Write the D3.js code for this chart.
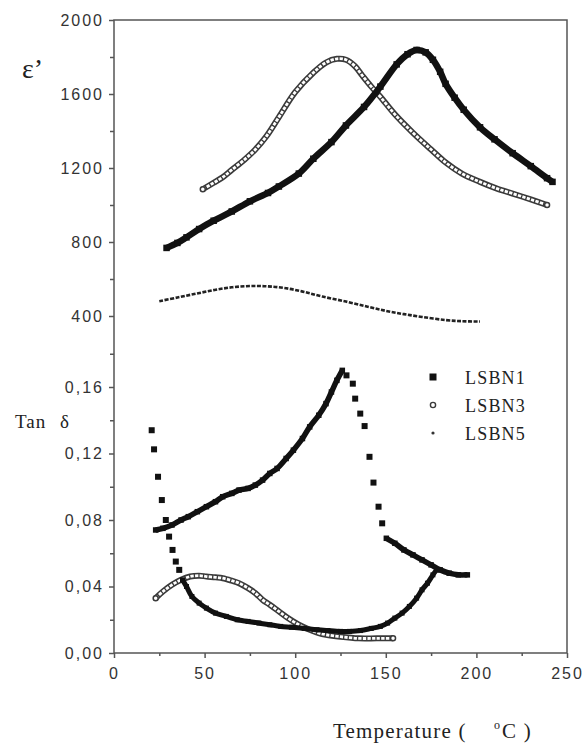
<!DOCTYPE html>
<html>
<head>
<meta charset="utf-8">
<script src="https://d3js.org/d3.v7.min.js"></script>
<style>
  body { margin: 0; background: #fff; }
  .tick text { font-family: "Liberation Sans", Arial, sans-serif; font-size: 16px; letter-spacing: 2px; fill: #333; }
  .tick line { stroke: #555; stroke-width: 1.5; }
  .serif { font-family: "Liberation Serif", "Times New Roman", serif; fill: #222; }
</style>
</head>
<body>
<div id="chart"></div>
<script>
// epsilon' (top panel), temperature in degC
var eps1T = [29, 35, 40, 47, 55, 65, 75, 85, 91, 102, 110, 120, 128, 138, 147, 156, 162, 167, 172, 176, 180, 183, 188, 193, 202, 210, 220, 230, 239, 242];
var eps1V = [768, 795, 825, 870, 915, 965, 1020, 1065, 1100, 1170, 1250, 1340, 1430, 1530, 1640, 1760, 1815, 1838, 1825, 1785, 1720, 1655, 1580, 1515, 1420, 1355, 1280, 1210, 1145, 1125];
var eps3T = [49, 55, 60, 65, 72, 78, 84, 91, 100, 110, 117, 123, 128, 133, 137, 142, 147, 155, 165, 175, 183, 192, 202, 211, 220, 230, 239];
var eps3V = [1085, 1120, 1150, 1190, 1245, 1300, 1370, 1475, 1610, 1715, 1770, 1790, 1785, 1750, 1700, 1640, 1585, 1490, 1390, 1300, 1230, 1170, 1125, 1090, 1062, 1030, 1000];
var eps5T = [25, 35, 45, 55, 65, 75, 85, 95, 105, 115, 128, 140, 150, 160, 170, 183, 192, 202];
var eps5V = [480, 500, 520, 540, 555, 562, 560, 550, 530, 505, 478, 450, 428, 410, 395, 378, 372, 370];

// tan delta (bottom panel)
var tan1T = [23, 27, 32, 37, 41, 46, 51, 56, 60, 65, 69, 74, 78, 82, 86, 90, 95, 99, 104, 108, 113, 117, 120, 123, 126];
var tan1V = [0.074, 0.075, 0.077, 0.080, 0.082, 0.085, 0.088, 0.091, 0.094, 0.096, 0.098, 0.099, 0.101, 0.104, 0.108, 0.111, 0.117, 0.122, 0.129, 0.136, 0.143, 0.150, 0.157, 0.164, 0.170];
var tan1DropT = [128.3, 131.8, 133.1, 135.9, 138.3, 141, 143.2, 146, 148];
var tan1DropV = [0.167, 0.162, 0.153, 0.144, 0.1365, 0.118, 0.1025, 0.088, 0.078];
var tan1TailT = [150.3, 155, 160, 165, 170, 175, 180, 185, 190, 195];
var tan1TailV = [0.069, 0.066, 0.062, 0.059, 0.056, 0.053, 0.050, 0.048, 0.047, 0.047];
var tan5HeadT = [20.8, 22.1, 24.3, 26.4, 28.6, 30.4, 32.3, 34.1, 36];
var tan5HeadV = [0.134, 0.1225, 0.106, 0.092, 0.080, 0.070, 0.062, 0.055, 0.050];
var tan5T = [37.8, 40, 43, 47, 51, 56, 62, 68, 74, 80, 86, 92, 98, 105, 112, 118, 125, 130, 136, 142, 147, 151, 155, 159, 163, 167, 170, 173, 176, 178];
var tan5V = [0.044, 0.040, 0.034, 0.030, 0.027, 0.024, 0.022, 0.020, 0.019, 0.018, 0.017, 0.016, 0.0155, 0.0148, 0.014, 0.0135, 0.013, 0.013, 0.0135, 0.0148, 0.016, 0.018, 0.021, 0.024, 0.028, 0.033, 0.038, 0.042, 0.047, 0.050];
var tan3T = [23, 27, 32, 37, 42, 47, 51, 56, 60, 65, 69, 74, 78, 82, 86, 91, 96, 102, 108, 113, 117, 125, 135, 145, 154];
var tan3V = [0.033, 0.037, 0.041, 0.044, 0.046, 0.0465, 0.046, 0.0455, 0.045, 0.0435, 0.042, 0.039, 0.036, 0.032, 0.029, 0.025, 0.021, 0.017, 0.014, 0.012, 0.011, 0.0098, 0.0088, 0.0088, 0.0088];

// ticks
var xTicks = [0, 50, 100, 150, 200, 250];
var xMinor = [25, 75, 125, 175, 225];
var epsTicks = [400, 800, 1200, 1600, 2000];
var epsMinor = [600, 1000, 1400, 1800];
var tanTicks = [0, 0.04, 0.08, 0.12, 0.16];
var tanMinor = [0.02, 0.06, 0.10, 0.14, 0.18];
var legendNames = ['LSBN1', 'LSBN3', 'LSBN5'];

var width = 587, height = 744;
var plotLeft = 114, plotRight = 567, plotTop = 20, plotBottom = 653;

var svg = d3.select('#chart').append('svg')
    .attr('width', width)
    .attr('height', height);

var x = d3.scaleLinear().domain([0, 250]).range([plotLeft, plotRight]);
var yTop = d3.scaleLinear().domain([400, 2000]).range([316, plotTop]);
var yBot = d3.scaleLinear().domain([0, 0.16]).range([plotBottom, 387]);

function zip(t, v) {
  return t.map(function(d, i) { return [d, v[i]]; });
}

// axes
function addAxis(axis, tx, ty) {
  var g = svg.append('g')
      .attr('transform', 'translate(' + tx + ',' + ty + ')')
      .call(axis);
  g.select('.domain').remove();
  return g;
}
var comma = function(d) { return d3.format('.2f')(d).replace('.', ','); };

addAxis(d3.axisLeft(yTop).tickValues(epsTicks).tickSize(5).tickPadding(5).tickFormat(d3.format('d')), plotLeft, 0);
addAxis(d3.axisLeft(yTop).tickValues(epsMinor).tickSize(4).tickFormat(''), plotLeft, 0);
addAxis(d3.axisLeft(yBot).tickValues(tanTicks).tickSize(5).tickPadding(5).tickFormat(comma), plotLeft, 0);
addAxis(d3.axisLeft(yBot).tickValues(tanMinor).tickSize(4).tickFormat(''), plotLeft, 0);
addAxis(d3.axisBottom(x).tickValues(xTicks).tickSize(5).tickPadding(10).tickFormat(d3.format('d')), 0, plotBottom);
addAxis(d3.axisBottom(x).tickValues(xMinor).tickSize(3).tickFormat(''), 0, plotBottom);

// frame
svg.append('rect')
    .attr('x', plotLeft).attr('y', plotTop)
    .attr('width', plotRight - plotLeft).attr('height', plotBottom - plotTop)
    .attr('fill', 'none')
    .attr('stroke', '#555')
    .attr('stroke-width', 1.5);

function line(ys) {
  return d3.line()
      .x(function(d) { return x(d[0]); })
      .y(function(d) { return ys(d[1]); })
      .curve(d3.curveCatmullRom);
}

// dense filled squares -> thick black line with squares on the points
function solid(t, v, ys, w) {
  var pts = zip(t, v);
  svg.append('path')
      .attr('d', line(ys)(pts))
      .attr('fill', 'none')
      .attr('stroke', '#111')
      .attr('stroke-width', w)
      .attr('stroke-linejoin', 'round');
  squares(t, v, ys, w);
}
function squares(t, v, ys, s) {
  svg.append('g').selectAll('rect')
      .data(zip(t, v))
      .enter().append('rect')
      .attr('x', function(d) { return x(d[0]) - s / 2; })
      .attr('y', function(d) { return ys(d[1]) - s / 2; })
      .attr('width', s).attr('height', s)
      .attr('fill', '#111');
}
// open circles chain
function chain(t, v, ys) {
  var pts = zip(t, v);
  var d = line(ys)(pts);
  svg.append('path').attr('d', d)
      .attr('fill', 'none').attr('stroke', '#3a3a3a').attr('stroke-width', 6);
  svg.append('path').attr('d', d)
      .attr('fill', 'none').attr('stroke', '#fff').attr('stroke-width', 2.8)
      .attr('stroke-dasharray', '3.3 1.3');
  svg.append('g').selectAll('circle')
      .data([pts[0], pts[pts.length - 1]])
      .enter().append('circle')
      .attr('cx', function(p) { return x(p[0]); })
      .attr('cy', function(p) { return ys(p[1]); })
      .attr('r', 2.5)
      .attr('fill', '#fff').attr('stroke', '#3a3a3a').attr('stroke-width', 1.5);
}
// small dots
function dots(t, v, ys) {
  svg.append('path')
      .attr('d', line(ys)(zip(t, v)))
      .attr('fill', 'none')
      .attr('stroke', '#222')
      .attr('stroke-width', 2.6)
      .attr('stroke-dasharray', '4 1.5');
}

// top panel
chain(eps3T, eps3V, yTop);
solid(eps1T, eps1V, yTop, 6.5);
dots(eps5T, eps5V, yTop);

// bottom panel
chain(tan3T, tan3V, yBot);
solid(tan1T, tan1V, yBot, 5.5);
squares(tan1DropT, tan1DropV, yBot, 6);
solid(tan1TailT, tan1TailV, yBot, 5.5);
squares(tan5HeadT, tan5HeadV, yBot, 6);
solid(tan5T, tan5V, yBot, 5);

// axis titles
svg.append('text').attr('class', 'serif')
    .attr('x', 22).attr('y', 78)
    .style('font-size', '28px')
    .text('ε’');
var tan = svg.append('text').attr('class', 'serif')
    .attr('x', 15).attr('y', 428)
    .style('font-size', '19px')
    .style('letter-spacing', '1px');
tan.append('tspan').text('Tan');
tan.append('tspan').attr('x', 60).text('δ');

var xt = svg.append('text').attr('class', 'serif')
    .attr('y', 738)
    .style('font-size', '21px')
    .style('letter-spacing', '1.2px');
xt.append('tspan').attr('x', 333).text('Temperature (');
xt.append('tspan').attr('x', 494).attr('dy', -9).style('font-size', '12px').text('o');
xt.append('tspan').attr('x', 502).attr('dy', 9).text('C )');

// legend
var lg = svg.append('g').attr('transform', 'translate(433,377)');
legendNames.forEach(function(name, i) {
  var row = lg.append('g').attr('transform', 'translate(0,' + (i * 28) + ')');
  if (i === 0) {
    row.append('rect').attr('x', -3.5).attr('y', -3.5).attr('width', 7).attr('height', 7).attr('fill', '#111');
  } else if (i === 1) {
    row.append('circle').attr('r', 2.6).attr('fill', '#fff').attr('stroke', '#3a3a3a').attr('stroke-width', 1.4);
  } else {
    row.append('circle').attr('r', 1.6).attr('fill', '#333');
  }
  row.append('text').attr('class', 'serif')
      .attr('x', 32).attr('y', 7)
      .style('font-size', '18px')
      .style('letter-spacing', '1.2px')
      .text(name);
});
</script>
</body>
</html>
